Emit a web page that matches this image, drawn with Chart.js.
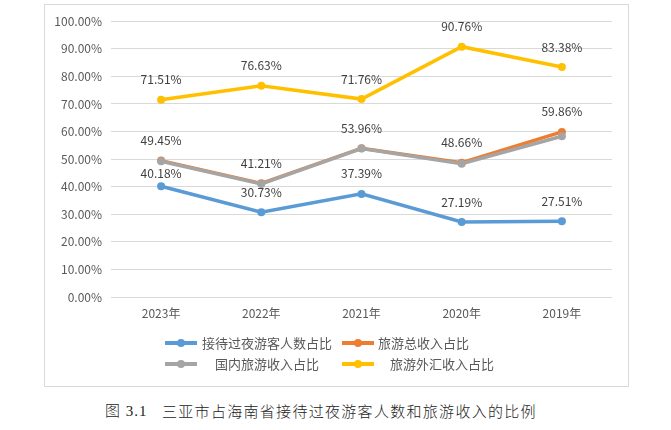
<!DOCTYPE html>
<html>
<head>
<meta charset="utf-8">
<script src="https://cdn.jsdelivr.net/npm/chart.js@4/dist/chart.umd.min.js"></script>
<style>
  html, body { margin: 0; padding: 0; background: #fff; width: 671px; height: 430px; overflow: hidden; }
  #frame { position: absolute; left: 44px; top: 4px; width: 583px; height: 381px; border: 1px solid #d9d9d9; }
  #cwrap { position: absolute; left: 45px; top: 5px; width: 582px; height: 330px; }
  #legend { position: absolute; left: 0; top: 0; font-family: "Noto Sans CJK SC", sans-serif; font-size: 13px; color: #595959; }
  .lg { position: absolute; white-space: nowrap; height: 18px; line-height: 18px; }
  .lg .mk { position: absolute; left: 0; top: 7px; width: 32px; height: 3.5px; }
  .lg .dot { position: absolute; left: 12px; top: 4.75px; width: 8px; height: 8px; border-radius: 50%; }
  .lg .tx { position: absolute; top: 0; }
  .cap { position: absolute; top: 401px; height: 20px; line-height: 20px; font-size: 15px; color: #222; font-weight: 300; white-space: nowrap; }
</style>
</head>
<body>
<div id="frame"></div>
<div id="cwrap"><canvas id="c"></canvas></div>
<div id="legend"></div>
<div class="cap" style="left:105px;font-family:'Liberation Serif','Noto Sans CJK SC',serif;letter-spacing:1px;">图 3.1</div>
<div class="cap" style="left:162px;font-family:'Noto Sans CJK SC',sans-serif;letter-spacing:1.3px;">三亚市占海南省接待过夜游客人数和旅游收入的比例</div>
<script>
const categories = ["2023年", "2022年", "2021年", "2020年", "2019年"];
const seriesNames = ["接待过夜游客人数占比", "旅游总收入占比", "国内旅游收入占比", "旅游外汇收入占比"];
const overnightVisitors = [40.18, 30.73, 37.39, 27.19, 27.51];
const totalRevenue = [49.45, 41.21, 53.96, 48.66, 59.86];
const domesticRevenue = [49.2, 41.0, 53.8, 48.3, 58.3];
const foreignRevenue = [71.51, 76.63, 71.76, 90.76, 83.38];
const yTicks = [0, 10, 20, 30, 40, 50, 60, 70, 80, 90, 100];
const colors = ["#5B9BD5", "#ED7D31", "#A5A5A5", "#FFC000"];

const values = [overnightVisitors, totalRevenue, domesticRevenue, foreignRevenue];
const showLabels = [true, true, false, true];
const drawOrder = [4, 3, 2, 1];

const datasets = values.map((v, i) => ({
  label: seriesNames[i],
  data: v,
  borderColor: colors[i],
  backgroundColor: colors[i],
  pointBackgroundColor: colors[i],
  pointBorderColor: colors[i],
  pointBorderWidth: 0,
  pointRadius: 4,
  borderWidth: 3.5,
  tension: 0,
  order: drawOrder[i],
  showValueLabels: showLabels[i]
}));

const valueLabels = {
  id: 'valueLabels',
  afterDatasetsDraw(chart) {
    const ctx = chart.ctx;
    ctx.save();
    ctx.font = '12px "Noto Sans CJK SC", sans-serif';
    ctx.fillStyle = '#404040';
    ctx.textAlign = 'center';
    ctx.textBaseline = 'middle';
    chart.data.datasets.forEach((ds, di) => {
      if (!ds.showValueLabels) return;
      const meta = chart.getDatasetMeta(di);
      meta.data.forEach((pt, j) => {
        let off = 20;
        if (di === 0 && j === 0) off = 13;
        ctx.fillText(ds.data[j].toFixed(2) + '%', pt.x, pt.y - off);
      });
    });
    ctx.restore();
  }
};

const chart = new Chart(document.getElementById('c'), {
  type: 'line',
  data: { labels: categories, datasets },
  options: {
    responsive: true,
    maintainAspectRatio: false,
    animation: false,
    layout: { padding: { top: 15, right: 15, bottom: 0, left: 0 } },
    plugins: { legend: { display: false }, tooltip: { enabled: false } },
    scales: {
      x: {
        offset: true,
        grid: { display: false, drawTicks: false },
        border: { display: false },
        ticks: { color: '#595959', font: { size: 12, family: '"Noto Sans CJK SC", sans-serif' }, padding: 9 },
        afterFit(s) { s.height = 38; }
      },
      y: {
        min: 0, max: 100,
        afterBuildTicks(s) { s.ticks = yTicks.map(v => ({ value: v })); },
        grid: { color: '#d9d9d9', lineWidth: 1, drawTicks: false },
        border: { display: false },
        ticks: {
          color: '#595959',
          font: { size: 12, family: '"Noto Sans CJK SC", sans-serif' },
          padding: 9,
          callback: v => v.toFixed(2) + '%'
        },
        afterFit(s) { s.width = 66; }
      }
    }
  },
  plugins: [valueLabels]
});

// legend built from the datasets
const legendPos = [
  { x: 165, y: 334, tx: 37 },
  { x: 342, y: 334, tx: 36 },
  { x: 165, y: 355, tx: 50 },
  { x: 342, y: 355, tx: 48 }
];
const lg = document.getElementById('legend');
seriesNames.forEach((name, i) => {
  const p = legendPos[i];
  const d = document.createElement('div');
  d.className = 'lg';
  d.style.left = p.x + 'px';
  d.style.top = p.y + 'px';
  d.innerHTML = '<div class="mk" style="background:' + colors[i] + '"></div>' +
    '<div class="dot" style="background:' + colors[i] + '"></div>' +
    '<div class="tx" style="left:' + p.tx + 'px">' + name + '</div>';
  lg.appendChild(d);
});
</script>
</body>
</html>
